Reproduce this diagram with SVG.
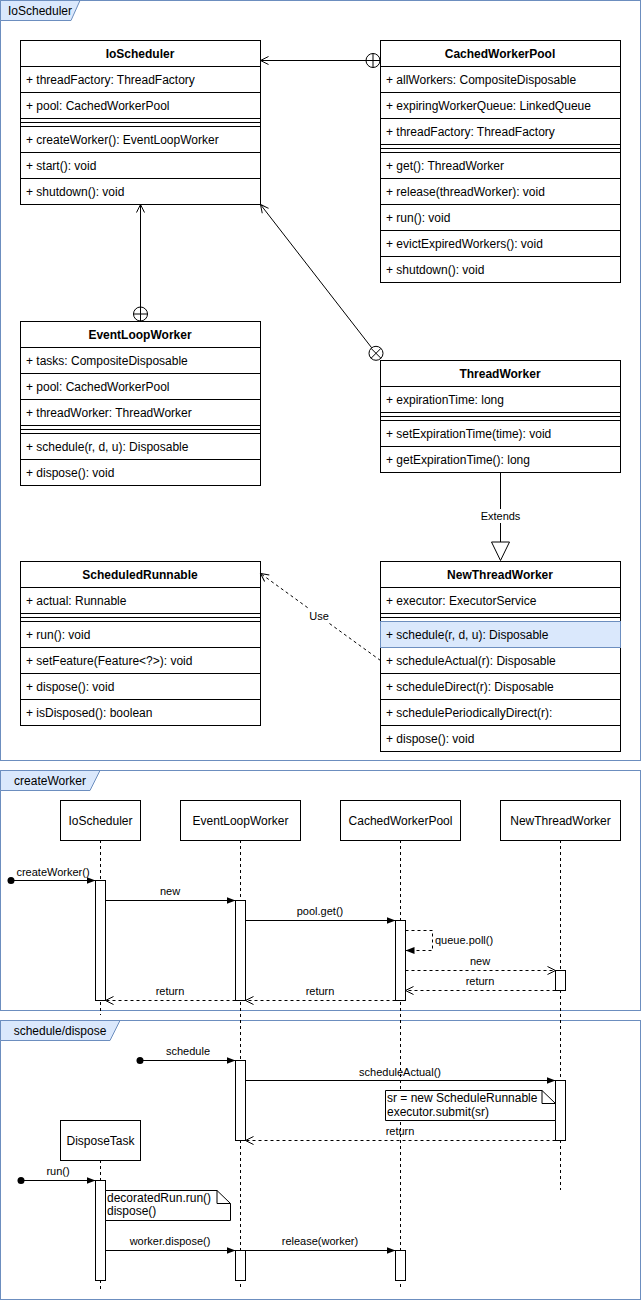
<svg xmlns="http://www.w3.org/2000/svg" width="642" height="1301" viewBox="0 0 642 1301">
<style>
text{font-family:"Liberation Sans",Arial,Helvetica,sans-serif;font-size:12px;fill:#000}
.b{font-weight:bold}
.c{text-anchor:middle}
.m{font-size:11px}
.frame{fill:none;stroke:#6c8ebf}
.tab{fill:#dae8fc;stroke:#6c8ebf}
.box{fill:#fff;stroke:#000}
.hl{fill:#dae8fc;stroke:#6c8ebf}
.ln{fill:none;stroke:#000}
.d{stroke-dasharray:3 3}
.bg{fill:#fff;stroke:none}
</style>
<defs>
<marker id="open" viewBox="0 0 10 10" refX="9" refY="5" markerWidth="10" markerHeight="10" markerUnits="userSpaceOnUse" orient="auto">
<path d="M1,1 L9,5 L1,9" fill="none" stroke="#000" stroke-width="1"/>
</marker>
<marker id="fill" viewBox="0 0 10 10" refX="9" refY="5" markerWidth="10" markerHeight="10" markerUnits="userSpaceOnUse" orient="auto">
<path d="M0,1.5 L9,5 L0,8.5 Z" fill="#000"/>
</marker>
</defs>

<!-- Frames -->
<g id="frame-ioscheduler">
<rect class="frame" x="0.5" y="0.5" width="640" height="760"/>
<path class="tab" d="M0.5,0.5 H80 L71,20.5 H0.5 Z"/>
<text class="c" x="40" y="15">IoScheduler</text>
</g>
<g id="frame-createworker">
<rect class="frame" x="0.5" y="770.5" width="640" height="240"/>
<path class="tab" d="M0.5,770.5 H100 L90,790.5 H0.5 Z"/>
<text class="c" x="50" y="785">createWorker</text>
</g>
<g id="frame-schedule">
<rect class="frame" x="0.5" y="1020.5" width="640" height="279"/>
<path class="tab" d="M0.5,1020.5 H120 L110,1040.5 H0.5 Z"/>
<text class="c" x="60" y="1035">schedule/dispose</text>
</g>

<!-- Class nodes -->
<g id="class-ioscheduler">
<rect class="box" x="20.5" y="40.5" width="240" height="164"/>
<path class="ln" d="M20.5,66.5 H260.5 M20.5,92.5 H260.5 M20.5,118.5 H260.5 M20.5,122.5 H260.5 M20.5,126.5 H260.5 M20.5,152.5 H260.5 M20.5,178.5 H260.5"/>
<text class="b c" x="140" y="58">IoScheduler</text>
<text x="26" y="84">+ threadFactory: ThreadFactory</text>
<text x="26" y="110">+ pool: CachedWorkerPool</text>
<text x="26" y="144">+ createWorker(): EventLoopWorker</text>
<text x="26" y="170">+ start(): void</text>
<text x="26" y="196">+ shutdown(): void</text>
</g>

<g id="class-cachedworkerpool">
<rect class="box" x="380.5" y="40.5" width="240" height="242"/>
<path class="ln" d="M380.5,66.5 H620.5 M380.5,92.5 H620.5 M380.5,118.5 H620.5 M380.5,144.5 H620.5 M380.5,148.5 H620.5 M380.5,152.5 H620.5 M380.5,178.5 H620.5 M380.5,204.5 H620.5 M380.5,230.5 H620.5 M380.5,256.5 H620.5"/>
<text class="b c" x="500" y="58">CachedWorkerPool</text>
<text x="386" y="84">+ allWorkers: CompositeDisposable</text>
<text x="386" y="110">+ expiringWorkerQueue: LinkedQueue</text>
<text x="386" y="136">+ threadFactory: ThreadFactory</text>
<text x="386" y="170">+ get(): ThreadWorker</text>
<text x="386" y="196">+ release(threadWorker): void</text>
<text x="386" y="222">+ run(): void</text>
<text x="386" y="248">+ evictExpiredWorkers(): void</text>
<text x="386" y="274">+ shutdown(): void</text>
</g>

<g id="class-eventloopworker">
<rect class="box" x="20.5" y="321.5" width="240" height="164"/>
<path class="ln" d="M20.5,347.5 H260.5 M20.5,373.5 H260.5 M20.5,399.5 H260.5 M20.5,425.5 H260.5 M20.5,429.5 H260.5 M20.5,433.5 H260.5 M20.5,459.5 H260.5"/>
<text class="b c" x="140" y="339">EventLoopWorker</text>
<text x="26" y="365">+ tasks: CompositeDisposable</text>
<text x="26" y="391">+ pool: CachedWorkerPool</text>
<text x="26" y="417">+ threadWorker: ThreadWorker</text>
<text x="26" y="451">+ schedule(r, d, u): Disposable</text>
<text x="26" y="477">+ dispose(): void</text>
</g>

<g id="class-threadworker">
<rect class="box" x="380.5" y="360.5" width="240" height="112"/>
<path class="ln" d="M380.5,386.5 H620.5 M380.5,412.5 H620.5 M380.5,416.5 H620.5 M380.5,420.5 H620.5 M380.5,446.5 H620.5"/>
<text class="b c" x="500" y="378">ThreadWorker</text>
<text x="386" y="404">+ expirationTime: long</text>
<text x="386" y="438">+ setExpirationTime(time): void</text>
<text x="386" y="464">+ getExpirationTime(): long</text>
</g>

<g id="class-scheduledrunnable">
<rect class="box" x="20.5" y="561.5" width="240" height="164"/>
<path class="ln" d="M20.5,587.5 H260.5 M20.5,613.5 H260.5 M20.5,617.5 H260.5 M20.5,621.5 H260.5 M20.5,647.5 H260.5 M20.5,673.5 H260.5 M20.5,699.5 H260.5"/>
<text class="b c" x="140" y="579">ScheduledRunnable</text>
<text x="26" y="605">+ actual: Runnable</text>
<text x="26" y="639">+ run(): void</text>
<text x="26" y="665">+ setFeature(Feature&lt;?&gt;): void</text>
<text x="26" y="691">+ dispose(): void</text>
<text x="26" y="717">+ isDisposed(): boolean</text>
</g>

<g id="class-newthreadworker">
<rect class="box" x="380.5" y="561.5" width="240" height="190"/>
<path class="ln" d="M380.5,587.5 H620.5 M380.5,613.5 H620.5 M380.5,617.5 H620.5 M380.5,621.5 H620.5 M380.5,673.5 H620.5 M380.5,699.5 H620.5 M380.5,725.5 H620.5"/>
<rect class="hl" x="380.5" y="621.5" width="240" height="26"/>
<text class="b c" x="500" y="579">NewThreadWorker</text>
<text x="386" y="605">+ executor: ExecutorService</text>
<text x="386" y="639">+ schedule(r, d, u): Disposable</text>
<text x="386" y="665">+ scheduleActual(r): Disposable</text>
<text x="386" y="691">+ scheduleDirect(r): Disposable</text>
<text x="386" y="717">+ schedulePeriodicallyDirect(r):</text>
<text x="386" y="743">+ dispose(): void</text>
</g>

<!-- Class connectors -->
<g id="class-connectors">
<line class="ln" x1="366" y1="60.5" x2="260.5" y2="60.5" marker-end="url(#open)"/>
<circle class="box" cx="373" cy="60.5" r="7"/>
<path class="ln" d="M366,60.5 H380 M373,53.5 V67.5"/>

<line class="ln" x1="140.5" y1="307" x2="140.5" y2="204.5" marker-end="url(#open)"/>
<circle class="box" cx="140.5" cy="314" r="7"/>
<path class="ln" d="M133.5,314 H147.5 M140.5,307 V321"/>

<line class="ln" x1="371.7" y1="347.8" x2="260.5" y2="204.5" marker-end="url(#open)"/>
<circle class="box" cx="376" cy="353.3" r="7"/>
<path class="ln" d="M371.05,348.35 L380.95,358.25 M380.95,348.35 L371.05,358.25"/>

<line class="ln" x1="500.5" y1="472.5" x2="500.5" y2="542"/>
<polygon class="box" points="491.5,542 509.5,542 500.5,560.5"/>
<rect class="bg" x="479" y="509" width="43" height="14"/>
<text class="m c" x="500.5" y="520">Extends</text>

<line class="ln d" x1="380.5" y1="660.5" x2="260.5" y2="573.5" marker-end="url(#open)"/>
<rect class="bg" x="308" y="609" width="22" height="14"/>
<text class="m c" x="319" y="620">Use</text>
</g>

<!-- Sequence lifelines -->
<g id="ll-ioscheduler">
<line class="ln d" x1="100.5" y1="840" x2="100.5" y2="1015"/>
<rect class="box" x="60.5" y="800.5" width="80" height="40"/>
<text class="c" x="100.5" y="825">IoScheduler</text>
<rect class="box" x="95.5" y="880.5" width="10" height="120"/>
</g>
<g id="ll-eventloopworker">
<line class="ln d" x1="240.5" y1="840" x2="240.5" y2="1290"/>
<rect class="box" x="180.5" y="800.5" width="120" height="40"/>
<text class="c" x="240.5" y="825">EventLoopWorker</text>
<rect class="box" x="235.5" y="900.5" width="10" height="100"/>
<rect class="box" x="235.5" y="1060.5" width="10" height="80"/>
<rect class="box" x="235.5" y="1250.5" width="10" height="30"/>
</g>
<g id="ll-cachedworkerpool">
<line class="ln d" x1="400.5" y1="840" x2="400.5" y2="1290"/>
<rect class="box" x="340.5" y="800.5" width="120" height="40"/>
<text class="c" x="400.5" y="825">CachedWorkerPool</text>
<rect class="box" x="395.5" y="920.5" width="10" height="80"/>
<rect class="box" x="395.5" y="1250.5" width="10" height="30"/>
</g>
<g id="ll-newthreadworker">
<line class="ln d" x1="560.5" y1="840" x2="560.5" y2="1190"/>
<rect class="box" x="500.5" y="800.5" width="120" height="40"/>
<text class="c" x="560.5" y="825">NewThreadWorker</text>
<rect class="box" x="555.5" y="970.5" width="10" height="20"/>
<rect class="box" x="555.5" y="1080.5" width="10" height="60"/>
</g>
<g id="ll-disposetask">
<line class="ln d" x1="100.5" y1="1160" x2="100.5" y2="1290"/>
<rect class="box" x="60.5" y="1120.5" width="80" height="40"/>
<text class="c" x="100.5" y="1145">DisposeTask</text>
<rect class="box" x="95.5" y="1180.5" width="10" height="100"/>
</g>

<!-- Notes -->
<g id="note-schedule">
<path class="box" d="M385.5,1090.5 H542 L555.5,1103.5 V1120.5 H385.5 Z"/>
<path class="ln" d="M542,1090.5 V1103.5 H555.5"/>
<text x="387" y="1102">sr = new ScheduleRunnable</text>
<text x="387" y="1116">executor.submit(sr)</text>
</g>
<g id="note-dispose">
<path class="box" d="M105.5,1190.5 H217 L230.5,1203.5 V1220.5 H105.5 Z"/>
<path class="ln" d="M217,1190.5 V1203.5 H230.5"/>
<text x="107" y="1202">decoratedRun.run()</text>
<text x="107" y="1215">dispose()</text>
</g>

<!-- Sequence messages -->
<g id="messages">
<circle cx="11" cy="880.5" r="3.5" fill="#000"/>
<line class="ln" x1="11" y1="880.5" x2="95.5" y2="880.5" marker-end="url(#fill)"/>
<text class="m c" x="53" y="876">createWorker()</text>

<line class="ln" x1="105.5" y1="900.5" x2="235.5" y2="900.5" marker-end="url(#fill)"/>
<text class="m c" x="170" y="895">new</text>

<line class="ln" x1="245.5" y1="920.5" x2="395.5" y2="920.5" marker-end="url(#fill)"/>
<text class="m c" x="320" y="915">pool.get()</text>

<path class="ln d" d="M405.5,930.5 H432.5 V950.5 H405.5" marker-end="url(#fill)"/>
<text class="m" x="435" y="944">queue.poll()</text>

<line class="ln d" x1="405.5" y1="970.5" x2="555.5" y2="970.5" marker-end="url(#open)"/>
<text class="m c" x="480" y="965">new</text>

<line class="ln d" x1="555.5" y1="990.5" x2="405.5" y2="990.5" marker-end="url(#open)"/>
<text class="m c" x="480" y="985">return</text>

<line class="ln d" x1="395.5" y1="1000.5" x2="245.5" y2="1000.5" marker-end="url(#open)"/>
<text class="m c" x="320" y="995">return</text>

<line class="ln d" x1="235.5" y1="1000.5" x2="105.5" y2="1000.5" marker-end="url(#open)"/>
<text class="m c" x="170" y="995">return</text>

<circle cx="140" cy="1060.5" r="3.5" fill="#000"/>
<line class="ln" x1="140" y1="1060.5" x2="235.5" y2="1060.5" marker-end="url(#fill)"/>
<text class="m c" x="188" y="1055">schedule</text>

<line class="ln" x1="245.5" y1="1080.5" x2="555.5" y2="1080.5" marker-end="url(#fill)"/>
<text class="m c" x="400" y="1076">scheduleActual()</text>

<line class="ln d" x1="555.5" y1="1140.5" x2="245.5" y2="1140.5" marker-end="url(#open)"/>
<text class="m c" x="400" y="1135">return</text>

<circle cx="21" cy="1180.5" r="3.5" fill="#000"/>
<line class="ln" x1="21" y1="1180.5" x2="95.5" y2="1180.5" marker-end="url(#fill)"/>
<text class="m c" x="58" y="1175">run()</text>

<line class="ln" x1="105.5" y1="1250.5" x2="235.5" y2="1250.5" marker-end="url(#fill)"/>
<text class="m c" x="170" y="1245">worker.dispose()</text>

<line class="ln" x1="245.5" y1="1250.5" x2="395.5" y2="1250.5" marker-end="url(#fill)"/>
<text class="m c" x="320" y="1245">release(worker)</text>
</g>
</svg>
